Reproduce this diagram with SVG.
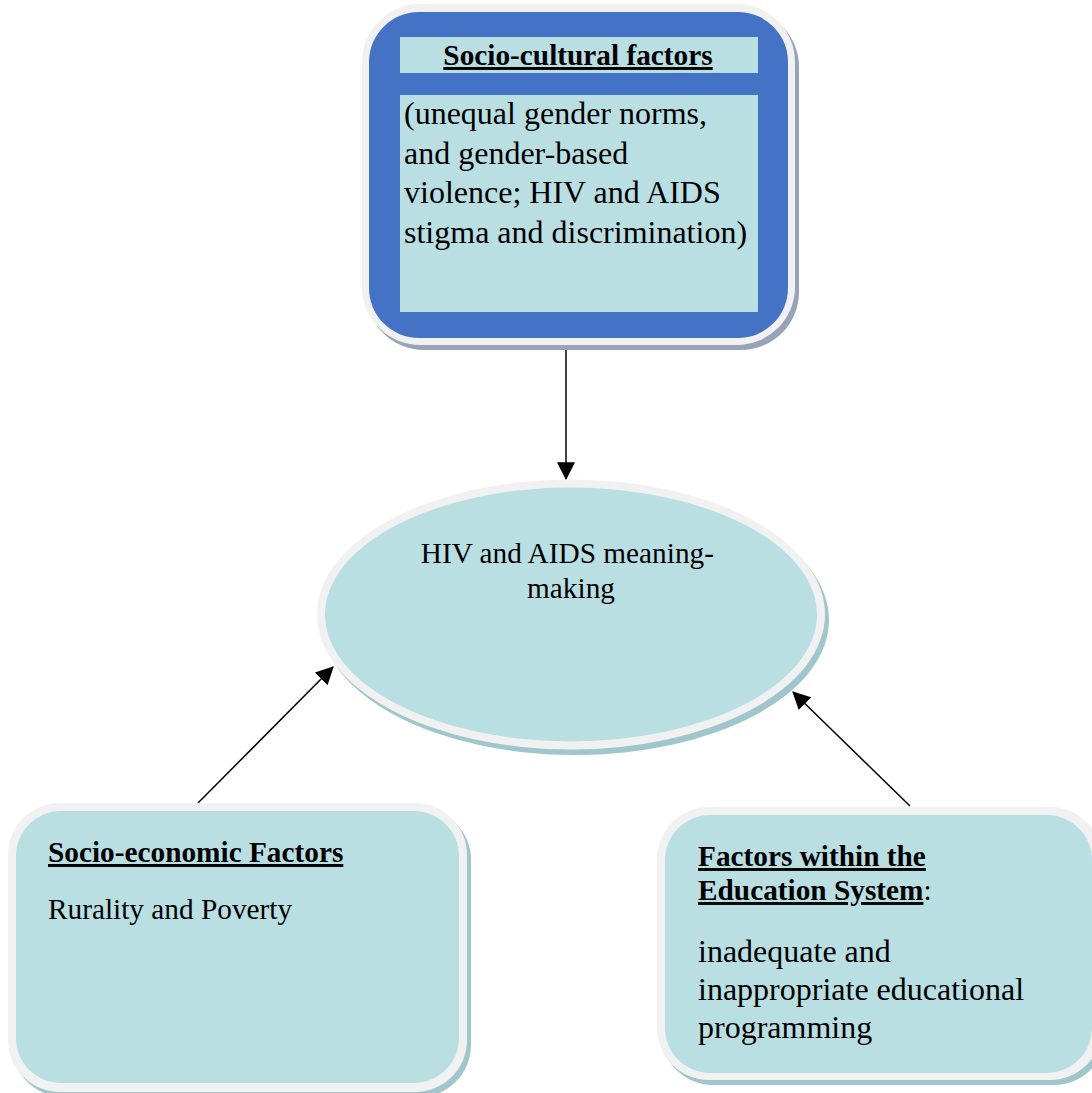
<svg xmlns="http://www.w3.org/2000/svg" width="1092" height="1093" viewBox="0 0 1092 1093">
<style>
.t{font-family:"Liberation Serif","Times New Roman",serif;font-size:29.3px;fill:#000}
.big{font-size:32px}
.b{font-weight:bold;text-decoration:underline}
.fill{fill:#b9dfe3}
.rim{fill:#f1f1f1}
.tshadow{fill:#9fc6cc}
.conn{stroke:#000;stroke-width:1.5;fill:none;marker-end:url(#ah)}
</style>
<defs>
<marker id="ah" markerUnits="userSpaceOnUse" markerWidth="18" markerHeight="18" viewBox="0 0 16 16" refX="15" refY="8" orient="auto">
<path d="M0,0 L16,8 L0,16 Z" fill="#000"/>
</marker>
</defs>
<rect width="1092" height="1093" fill="#fff"/>

<g id="connectors">
<line class="conn" x1="566" y1="345" x2="566" y2="479"/>
<line class="conn" x1="198" y1="803" x2="333" y2="667"/>
<line class="conn" x1="910" y1="806" x2="793" y2="692"/>
</g>

<g id="socio-cultural">
<rect x="366" y="9" width="433" height="341" rx="58" fill="#97a3b6"/>
<rect x="362" y="4" width="433" height="341" rx="58" class="rim"/>
<rect x="369" y="12" width="419" height="326" rx="50" fill="#4472c4"/>
<rect x="400" y="37" width="358" height="36" class="fill"/>
<rect x="400" y="95" width="358" height="217" class="fill"/>
<text class="t b" x="578" y="65" text-anchor="middle">Socio-cultural factors</text>
<text class="t big" x="404">
<tspan x="404" y="124">(unequal gender norms,</tspan>
<tspan x="404" y="164">and gender-based</tspan>
<tspan x="404" y="203">violence; HIV and AIDS</tspan>
<tspan x="404" y="243">stigma and discrimination)</tspan>
</text>
</g>

<g id="meaning-making">
<ellipse cx="575" cy="620" rx="254" ry="135" class="tshadow"/>
<ellipse cx="571" cy="614.5" rx="254" ry="135" class="rim"/>
<ellipse cx="571" cy="614.5" rx="246" ry="127" class="fill"/>
<text class="t" text-anchor="middle">
<tspan x="571" y="563">HIV and AIDS meaning-</tspan>
<tspan x="571" y="598">making</tspan>
</text>
</g>

<g id="socio-economic">
<rect x="12" y="808" width="459" height="289" rx="52" class="tshadow"/>
<rect x="8" y="803" width="459" height="289" rx="52" class="rim"/>
<rect x="16" y="811" width="443" height="272" rx="45" class="fill"/>
<text class="t b" x="48" y="862">Socio-economic Factors</text>
<text class="t" x="48" y="919">Rurality and Poverty</text>
</g>

<g id="education-system">
<rect x="661" y="812" width="445" height="273" rx="52" class="tshadow"/>
<rect x="657" y="807" width="445" height="273" rx="52" class="rim"/>
<rect x="665" y="815" width="427" height="258" rx="45" class="fill"/>
<text class="t b" x="698" y="866">Factors within the</text>
<text class="t" x="698" y="900"><tspan class="b">Education System</tspan>:</text>
<text class="t big">
<tspan x="698" y="962">inadequate and</tspan>
<tspan x="698" y="1000">inappropriate educational</tspan>
<tspan x="698" y="1038">programming</tspan>
</text>
</g>
</svg>
